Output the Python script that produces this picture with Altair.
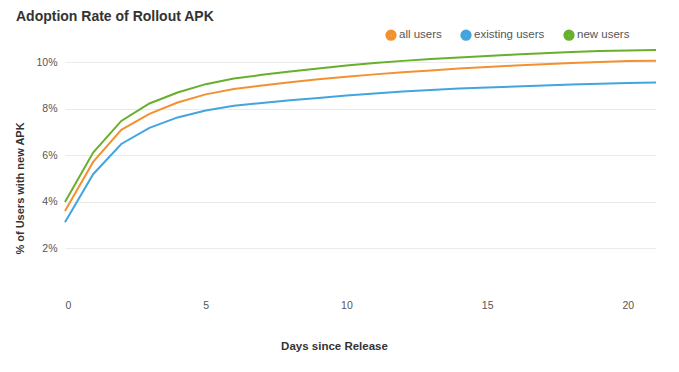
import altair as alt
import pandas as pd

days = list(range(22))
all_users = [3.61, 5.72, 7.10, 7.78, 8.27, 8.62, 8.85, 9.00, 9.14, 9.27, 9.38, 9.48,
             9.57, 9.65, 9.73, 9.80, 9.86, 9.92, 9.97, 10.01, 10.05, 10.07]
existing_users = [3.13, 5.19, 6.49, 7.18, 7.63, 7.93, 8.13, 8.25, 8.37, 8.47, 8.57, 8.66,
                  8.74, 8.81, 8.87, 8.92, 8.96, 9.00, 9.04, 9.08, 9.11, 9.13]
new_users = [4.00, 6.12, 7.48, 8.23, 8.70, 9.06, 9.30, 9.46, 9.60, 9.73, 9.86, 9.97,
             10.06, 10.14, 10.21, 10.27, 10.33, 10.39, 10.44, 10.48, 10.51, 10.53]
series_names = ["all users", "existing users", "new users"]
series_colors = ["#F39130", "#42A5DE", "#68AF2C"]
y_ticks = [0.02, 0.04, 0.06, 0.08, 0.10]
x_ticks = [0, 5, 10, 15, 20]

rows = []
for name, vals in zip(series_names, [all_users, existing_users, new_users]):
    for d, v in zip(days, vals):
        rows.append({"day": d, "rate": v / 100.0, "series": name})
df = pd.DataFrame(rows)

FONT = "Liberation Sans"

chart = alt.Chart(df).mark_line(strokeWidth=2).encode(
    x=alt.X("day:Q", scale=alt.Scale(domain=[0, 21], nice=False, zero=False),
            axis=alt.Axis(title="Days since Release", values=x_ticks, grid=False,
                          domain=False, ticks=False, labelPadding=5,
                          titlePadding=30, titleX=269, labelFontSize=10.5,
                          labelColor="#555", titleFontSize=11.5, titleColor="#333",
                          titleFontWeight="bold", labelFont=FONT, titleFont=FONT)),
    y=alt.Y("rate:Q", scale=alt.Scale(domain=[0, 0.11], nice=False),
            axis=alt.Axis(title="% of Users with new APK", values=y_ticks, format=".0%",
                          grid=True, gridColor="#ebebeb", domain=False, ticks=False,
                          labelPadding=8, titleX=-45, titleY=149, titleBaseline="middle",
                          titleAlign="center", labelFontSize=10.5,
                          labelColor="#555", titleFontSize=11, titleColor="#333",
                          titleFontWeight="bold", labelFont=FONT, titleFont=FONT)),
    color=alt.Color("series:N",
                    scale=alt.Scale(domain=series_names, range=series_colors),
                    legend=alt.Legend(title=None, orient="none", direction="horizontal",
                                      legendX=320, legendY=-10, symbolType="circle",
                                      symbolSize=28, symbolStrokeWidth=6,
                                      labelFontSize=11.5, labelColor="#555",
                                      labelFont=FONT, columnPadding=9, labelOffset=2)),
).properties(
    width=591, height=256,
    autosize=alt.AutoSizeParams(type="none"),
    padding={"left": 57, "top": 31, "right": 15, "bottom": 60},
    title=alt.TitleParams("Adoption Rate of Rollout APK", anchor="start", frame="bounds",
                          fontSize=14, fontWeight="bold", color="#333", font=FONT,
                          offset=5, dx=2),
).configure_view(stroke=None)

chart.save("out.html", embed_options={"renderer": "svg", "actions": False})
